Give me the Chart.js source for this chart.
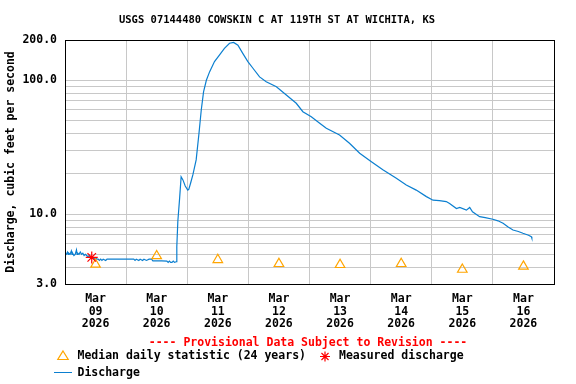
<!DOCTYPE html>
<html>
<head>
<meta charset="utf-8">
<script src="https://cdn.jsdelivr.net/npm/chart.js"></script>
<style>
    body { margin: 0; background: #fff; }
</style>
</head>
<body>
<canvas id="flowChart" width="576" height="384"></canvas>
<script>
// hours since Mar 09 2026 00:00 and discharge (cfs)
const flowHours = [0, 0.5, 1, 1.25, 1.5, 2, 2.5, 2.75, 3, 3.5, 4, 4.5, 4.75, 5, 5.5, 6, 6.5, 7, 7.5, 8,
    8.5, 9, 9.5, 10, 10.5, 11, 11.5, 12, 12.5, 13, 13.5, 14, 14.5, 15, 16, 16.5, 17, 27, 27.5, 28,
    29, 29.5, 30.5, 31, 32, 33, 34, 34.5, 36, 38, 40, 40.5, 41, 41.5, 42, 42.5, 43, 43.7,
    43.9, 44.3, 45.0, 45.6, 46.3, 47.2, 48.2, 48.6, 49.3, 50.2, 51.5, 52.6, 53.5, 54.4, 55.5, 56.8,
    58.7, 60.7, 62.6, 64.6, 66.2, 67.9, 69.8, 71.8, 73.8, 76.4, 79.0, 83.0, 86.9, 90.8, 93.4, 96.7,
    100.0, 102.6, 107.8, 111.7, 115.7, 120.3, 124.8, 130.1, 134.0, 137.9, 141.9, 144.5, 147, 149.7,
    151, 153.7, 155, 157.6, 158.9, 160, 162.8, 165, 168.0, 170, 172.0, 174, 175.9, 178, 179.8, 182,
    183.1, 183.3];
const flowCfs = [5.1, 5.0, 5.2, 5.0, 5.1, 5.0, 5.3, 5.0, 5.1, 4.9, 5.0, 5.4, 5.0, 5.1, 5.0, 5.2, 5.0, 5.1, 4.9, 5.0,
    4.9, 4.8, 4.9, 4.7, 4.8, 4.7, 4.6, 4.7, 4.6, 4.6, 4.5, 4.6, 4.5, 4.6, 4.5, 4.6, 4.6, 4.6, 4.5, 4.6,
    4.5, 4.6, 4.5, 4.6, 4.5, 4.6, 4.6, 4.47, 4.47, 4.47, 4.45, 4.35, 4.45, 4.35, 4.35, 4.45, 4.35, 4.4,
    5.7, 8.8, 13.1, 19.0, 18.0, 16.2, 15.1, 15.3, 17.0, 19.6, 25.4, 40, 60, 82, 100, 116,
    138, 155, 173, 189, 192, 183, 159, 138, 123, 106, 97.5, 89.5, 77.6, 67.3, 58.2, 53.4,
    47.7, 43.8, 39.0, 33.8, 28.5, 24.6, 21.4, 18.5, 16.5, 15.1, 13.5, 12.7, 12.6, 12.4,
    12.0, 11.0, 11.2, 10.7, 11.2, 10.4, 9.56, 9.4, 9.14, 8.9, 8.53, 8.0, 7.6, 7.4, 7.18, 6.95,
    6.78, 6.6];

const medianHours = [12, 36, 60, 84, 108, 132, 156, 180];
const medianCfs = [4.2, 4.86, 4.55, 4.25, 4.18, 4.25, 3.85, 4.06];

const measuredHours = [10.5];
const measuredCfs = [4.74];

const dayLabels = ['09', '10', '11', '12', '13', '14', '15', '16'];
const yTicks = [3, 4, 5, 6, 7, 8, 9, 10, 20, 30, 40, 50, 60, 70, 80, 90, 100, 200];
const yLabeled = [3, 10, 100, 200];

const FONT = '"DejaVu Sans Mono", "Liberation Mono", monospace';
const BLUE = '#0b7fd0';
const ORANGE = '#ffa500';

function toPoints(xs, ys) {
    return xs.map((x, i) => ({ x: x, y: ys[i] }));
}

// frame, provisional note and the legend under the axis
const extras = {
    id: 'extras',
    afterDatasetsDraw(chart) {
        const ctx = chart.ctx;
        const a = chart.chartArea;
        ctx.save();
        ctx.strokeStyle = '#000';
        ctx.lineWidth = 1;
        ctx.strokeRect(Math.round(a.left) + 0.5, Math.round(a.top) + 0.5,
            Math.round(a.right - a.left), Math.round(a.bottom - a.top));
        ctx.restore();
    },
    afterDraw(chart) {
        const ctx = chart.ctx;
        ctx.save();
        ctx.font = 'bold 11.5px ' + FONT;
        ctx.textBaseline = 'middle';

        ctx.fillStyle = '#ff0000';
        ctx.textAlign = 'center';
        ctx.fillText('---- Provisional Data Subject to Revision ----', 308, 343);

        ctx.textAlign = 'left';
        ctx.fillStyle = '#000';
        ctx.fillText('Median daily statistic (24 years)', 77.5, 356.5);
        ctx.fillText('Measured discharge', 339, 356.5);
        ctx.fillText('Discharge', 77.5, 373);

        // triangle
        ctx.strokeStyle = ORANGE;
        ctx.lineWidth = 1.2;
        ctx.beginPath();
        ctx.moveTo(63, 351);
        ctx.lineTo(68.2, 359.5);
        ctx.lineTo(57.8, 359.5);
        ctx.closePath();
        ctx.stroke();

        // star
        ctx.strokeStyle = '#ff0000';
        ctx.beginPath();
        for (let k = 0; k < 4; k++) {
            const ang = k * Math.PI / 4;
            ctx.moveTo(325 - Math.cos(ang) * 5, 356.5 - Math.sin(ang) * 5);
            ctx.lineTo(325 + Math.cos(ang) * 5, 356.5 + Math.sin(ang) * 5);
        }
        ctx.stroke();

        // line
        ctx.strokeStyle = BLUE;
        ctx.lineWidth = 1;
        ctx.beginPath();
        ctx.moveTo(54, 372.5);
        ctx.lineTo(72, 372.5);
        ctx.stroke();
        ctx.restore();
    }
};

new Chart(document.getElementById('flowChart'), {
    type: 'line',
    data: {
        datasets: [
            {
                label: 'Median daily statistic (24 years)',
                data: toPoints(medianHours, medianCfs),
                showLine: false,
                pointStyle: 'triangle',
                pointRadius: 5.5,
                pointBorderColor: ORANGE,
                pointBackgroundColor: 'rgba(0,0,0,0)',
                pointBorderWidth: 1.2,
                order: 1
            },
            {
                label: 'Measured discharge',
                data: toPoints(measuredHours, measuredCfs),
                showLine: false,
                pointStyle: 'star',
                pointRadius: 6,
                pointBorderColor: '#ff0000',
                pointBorderWidth: 1.2,
                order: 0
            },
            {
                label: 'Discharge',
                data: toPoints(flowHours, flowCfs),
                borderColor: BLUE,
                borderWidth: 1.2,
                pointRadius: 0,
                tension: 0,
                fill: false,
                order: 2
            }
        ]
    },
    options: {
        responsive: false,
        animation: false,
        layout: {
            padding: { left: 0, right: 22, top: 0, bottom: 52 }
        },
        plugins: {
            legend: { display: false },
            tooltip: { enabled: false },
            title: {
                display: true,
                text: 'USGS 07144480 COWSKIN C AT 119TH ST AT WICHITA, KS',
                color: '#000',
                font: { family: FONT, size: 10.5, weight: 'bold' },
                padding: { top: 14, bottom: 13.4 }
            }
        },
        scales: {
            x: {
                type: 'linear',
                min: 0,
                max: 192,
                afterBuildTicks: (scale) => {
                    const t = [];
                    for (let h = 0; h <= 192; h += 12) t.push({ value: h });
                    scale.ticks = t;
                },
                afterFit: (scale) => { scale.height = 48; },
                border: { display: false },
                grid: {
                    drawTicks: false,
                    color: (c) => (c.tick && c.tick.value % 24 === 0 && c.tick.value > 0 && c.tick.value < 192) ? '#c8c8c8' : 'rgba(0,0,0,0)'
                },
                ticks: {
                    autoSkip: false,
                    maxRotation: 0,
                    padding: 9,
                    color: '#000',
                    font: { family: FONT, size: 11.5, weight: 'bold', lineHeight: '12.5px' },
                    callback: (v) => {
                        if (v % 24 !== 12) return '';
                        return ['Mar', dayLabels[(v - 12) / 24], '2026'];
                    }
                }
            },
            y: {
                type: 'logarithmic',
                min: 3,
                max: 200,
                afterBuildTicks: (scale) => {
                    scale.ticks = yTicks.map(v => ({ value: v }));
                },
                afterFit: (scale) => { scale.width = 65; },
                border: { display: false },
                grid: {
                    drawTicks: false,
                    color: (c) => (c.tick && (c.tick.value === 3 || c.tick.value === 200)) ? 'rgba(0,0,0,0)' : '#c8c8c8'
                },
                title: {
                    display: true,
                    text: 'Discharge, cubic feet per second',
                    color: '#000',
                    font: { family: FONT, size: 11.5, weight: 'bold' },
                    padding: { top: 4.6, bottom: 0 }
                },
                ticks: {
                    autoSkip: false,
                    padding: 8,
                    color: '#000',
                    font: { family: FONT, size: 11.5, weight: 'bold' },
                    callback: (v) => yLabeled.includes(v) ? v.toFixed(1) : ''
                }
            }
        }
    },
    plugins: [extras]
});
</script>
</body>
</html>
